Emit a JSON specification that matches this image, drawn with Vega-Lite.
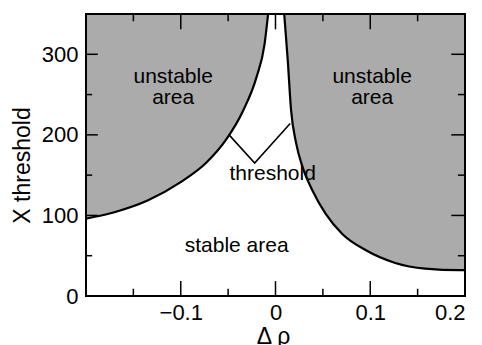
{
  "$schema": "https://vega.github.io/schema/vega-lite/v6.json",
  "width": 379,
  "height": 282,
  "autosize": "none",
  "padding": {"left": 86, "top": 14, "right": 17, "bottom": 49},
  "background": "white",
  "config": {
    "view": {"stroke": null},
    "font": "Liberation Sans",
    "axis": {
      "domain": false, "grid": false, "ticks": false,
      "labelFont": "Liberation Sans", "labelFontSize": 22, "labelColor": "black",
      "titleFont": "Liberation Sans", "titleFontSize": 23, "titleColor": "black", "titleFontWeight": "normal"
    },
    "rule": {"color": "black", "strokeWidth": 1.5}
  },
  "datasets": {
    "left": [
      {"x": -0.2, "y": 96}, {"x": -0.198, "y": 96.5}, {"x": -0.17, "y": 104}, {"x": -0.135, "y": 118.5},
      {"x": -0.1005, "y": 141}, {"x": -0.0726, "y": 166}, {"x": -0.0516, "y": 195}, {"x": -0.0342, "y": 230},
      {"x": -0.0202, "y": 271}, {"x": -0.0115, "y": 313}, {"x": -0.0078, "y": 350}
    ],
    "right": [
      {"x": 0.0092, "y": 350}, {"x": 0.0129, "y": 293}, {"x": 0.0164, "y": 231}, {"x": 0.0217, "y": 190},
      {"x": 0.0286, "y": 160}, {"x": 0.039, "y": 131}, {"x": 0.053, "y": 102}, {"x": 0.0705, "y": 77},
      {"x": 0.095, "y": 57}, {"x": 0.1264, "y": 41}, {"x": 0.158, "y": 34}, {"x": 0.194, "y": 32}, {"x": 0.2, "y": 32}
    ],
    "pointer": [
      {"x": -0.049, "y": 200}, {"x": -0.022, "y": 165}, {"x": 0.0155, "y": 214}
    ],
    "labels": [
      {"x": -0.108, "y": 272, "text": "unstable\narea"},
      {"x": 0.102, "y": 272, "text": "unstable\narea"},
      {"x": -0.003, "y": 151, "text": "threshold"},
      {"x": -0.041, "y": 62, "text": "stable area"}
    ],
    "xmajor": [{"x": -0.1}, {"x": 0}, {"x": 0.1}],
    "xminor": [{"x": -0.15}, {"x": -0.05}, {"x": 0.05}, {"x": 0.15}],
    "ymajor": [{"y": 100}, {"y": 200}, {"y": 300}],
    "yminor": [{"y": 50}, {"y": 150}, {"y": 250}],
    "frame": [{}]
  },
  "layer": [
    {
      "data": {"name": "left"},
      "mark": {"type": "area", "color": "#ababab", "clip": true, "interpolate": "monotone"},
      "encoding": {
        "x": {"field": "x", "type": "quantitative", "scale": {"domain": [-0.2, 0.2], "nice": false, "zero": false},
          "axis": {"orient": "bottom", "values": [-0.1, 0, 0.1, 0.2], "labelPadding": 6, "format": "~g",
            "title": "Δ ρ", "titleX": 187, "titleY": 47, "titleBaseline": "alphabetic", "titleAnchor": null}},
        "y": {"field": "y", "type": "quantitative", "scale": {"domain": [0, 350], "nice": false},
          "axis": {"orient": "left", "values": [0, 100, 200, 300], "labelPadding": 8,
            "title": "X threshold", "titleX": -64, "titleY": 151, "titleBaseline": "middle", "titleAngle": -90}},
        "y2": {"datum": 350}
      }
    },
    {
      "data": {"name": "right"},
      "mark": {"type": "area", "color": "#ababab", "clip": true, "interpolate": "monotone"},
      "encoding": {
        "x": {"field": "x", "type": "quantitative"},
        "y": {"field": "y", "type": "quantitative"},
        "y2": {"datum": 350}
      }
    },
    {
      "data": {"name": "left"},
      "mark": {"type": "line", "color": "black", "strokeWidth": 2.2, "clip": true, "interpolate": "monotone"},
      "encoding": {
        "x": {"field": "x", "type": "quantitative"},
        "y": {"field": "y", "type": "quantitative"}
      }
    },
    {
      "data": {"name": "right"},
      "mark": {"type": "line", "color": "black", "strokeWidth": 2.2, "clip": true, "interpolate": "monotone"},
      "encoding": {
        "x": {"field": "x", "type": "quantitative"},
        "y": {"field": "y", "type": "quantitative"}
      }
    },
    {
      "data": {"name": "pointer"},
      "mark": {"type": "line", "color": "black", "strokeWidth": 1.6},
      "encoding": {
        "x": {"field": "x", "type": "quantitative"},
        "y": {"field": "y", "type": "quantitative"}
      }
    },
    {
      "data": {"name": "xmajor"},
      "mark": {"type": "rule"},
      "encoding": {"x": {"field": "x", "type": "quantitative"}, "y": {"datum": 0}, "y2": {"datum": 18.5}}
    },
    {
      "data": {"name": "xminor"},
      "mark": {"type": "rule"},
      "encoding": {"x": {"field": "x", "type": "quantitative"}, "y": {"datum": 0}, "y2": {"datum": 9}}
    },
    {
      "data": {"name": "xmajor"},
      "mark": {"type": "rule"},
      "encoding": {"x": {"field": "x", "type": "quantitative"}, "y": {"datum": 350}, "y2": {"datum": 331}}
    },
    {
      "data": {"name": "xminor"},
      "mark": {"type": "rule"},
      "encoding": {"x": {"field": "x", "type": "quantitative"}, "y": {"datum": 350}, "y2": {"datum": 341}}
    },
    {
      "data": {"name": "ymajor"},
      "mark": {"type": "rule"},
      "encoding": {"y": {"field": "y", "type": "quantitative"}, "x": {"datum": -0.2}, "x2": {"datum": -0.1875}}
    },
    {
      "data": {"name": "yminor"},
      "mark": {"type": "rule"},
      "encoding": {"y": {"field": "y", "type": "quantitative"}, "x": {"datum": -0.2}, "x2": {"datum": -0.1935}}
    },
    {
      "data": {"name": "ymajor"},
      "mark": {"type": "rule"},
      "encoding": {"y": {"field": "y", "type": "quantitative"}, "x": {"datum": 0.2}, "x2": {"datum": 0.1855}}
    },
    {
      "data": {"name": "yminor"},
      "mark": {"type": "rule"},
      "encoding": {"y": {"field": "y", "type": "quantitative"}, "x": {"datum": 0.2}, "x2": {"datum": 0.1925}}
    },
    {
      "data": {"name": "frame"},
      "mark": {"type": "rect", "fill": null, "stroke": "black", "strokeWidth": 2},
      "encoding": {"x": {"datum": -0.2}, "x2": {"datum": 0.2}, "y": {"datum": 0}, "y2": {"datum": 350}}
    },
    {
      "data": {"name": "labels"},
      "mark": {"type": "text", "fontSize": 21, "font": "Liberation Sans", "color": "black", "lineBreak": "\n", "lineHeight": 21, "align": "center", "baseline": "middle"},
      "encoding": {
        "x": {"field": "x", "type": "quantitative"},
        "y": {"field": "y", "type": "quantitative"},
        "text": {"field": "text"}
      }
    }
  ]
}
